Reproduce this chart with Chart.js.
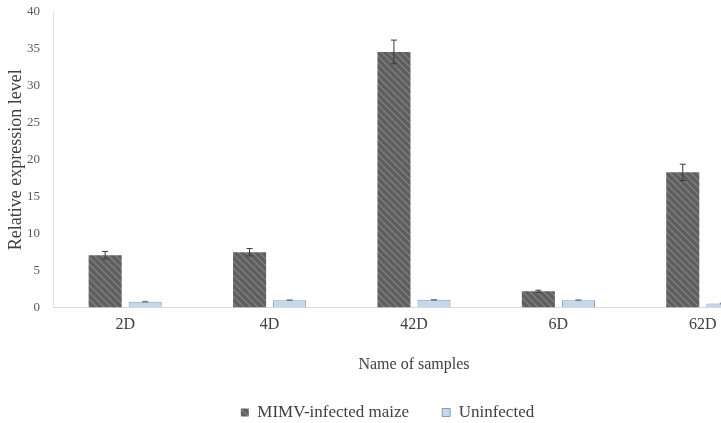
<!DOCTYPE html>
<html>
<head>
<meta charset="utf-8">
<script src="https://cdn.jsdelivr.net/npm/chart.js@4.4.1/dist/chart.umd.min.js"></script>
<style>
  html, body { margin: 0; padding: 0; background: #fff; overflow: hidden; }
  #wrap { position: relative; width: 780px; height: 423px; }
</style>
</head>
<body>
<div id="wrap"><canvas id="expr"></canvas></div>
<script>
const samples = ['2D', '4D', '42D', '6D', '62D'];
const infected = [7.1, 7.5, 34.6, 2.2, 18.3];
const infectedErr = [0.5, 0.5, 1.6, 0.15, 1.1];
const uninfected = [0.8, 1.0, 1.05, 1.0, 0.55];
const uninfectedErr = [0.05, 0.05, 0.05, 0.05, 0.05];
const yTicks = [0, 5, 10, 15, 20, 25, 30, 35, 40];

const serif = "'Liberation Serif', 'DejaVu Serif', serif";
const textCol = '#404040';
Chart.defaults.font.family = serif;
Chart.defaults.color = textCol;

// diagonal stripes like the excel pattern fill
function hatch(base, stripe) {
    const n = 7;
    const c = document.createElement('canvas');
    c.width = n; c.height = n;
    const g = c.getContext('2d');
    g.fillStyle = base;
    g.fillRect(0, 0, n, n);
    g.strokeStyle = stripe;
    g.lineWidth = 1.2;
    g.beginPath();
    g.moveTo(0, 0); g.lineTo(n, n);
    g.moveTo(-n, 0); g.lineTo(n, 2 * n);
    g.moveTo(0, -n); g.lineTo(2 * n, n);
    g.stroke();
    return g.createPattern(c, 'repeat');
}

const errorBars = {
    id: 'errorBars',
    afterDatasetsDraw(chart) {
        const ctx = chart.ctx, y = chart.scales.y;
        chart.data.datasets.forEach((ds, i) => {
            if (!ds.errors) return;
            chart.getDatasetMeta(i).data.forEach((bar, j) => {
                const v = ds.data[j], e = ds.errors[j];
                const top = y.getPixelForValue(v + e);
                const bot = y.getPixelForValue(v - e);
                ctx.save();
                ctx.strokeStyle = ds.errColor;
                ctx.lineWidth = 1;
                ctx.beginPath();
                ctx.moveTo(bar.x, top); ctx.lineTo(bar.x, bot);
                ctx.moveTo(bar.x - 3, top); ctx.lineTo(bar.x + 3, top);
                ctx.moveTo(bar.x - 3, bot); ctx.lineTo(bar.x + 3, bot);
                ctx.stroke();
                ctx.restore();
            });
        });
    }
};

new Chart(document.getElementById('expr'), {
    type: 'bar',
    plugins: [errorBars],
    data: {
        labels: samples,
        datasets: [
            {
                label: 'MIMV-infected maize',
                data: infected,
                errors: infectedErr,
                errColor: '#3a3a3a',
                backgroundColor: hatch('#5f5f5f', '#858585'),
                borderColor: '#5a5a5a',
                borderWidth: 0,
                barPercentage: 0.825,
                categoryPercentage: 0.555
            },
            {
                label: 'Uninfected',
                data: uninfected,
                errors: uninfectedErr,
                errColor: '#6d7f92',
                backgroundColor: '#c2d8ee',
                borderColor: '#8a9bb0',
                borderWidth: 1,
                barPercentage: 0.825,
                categoryPercentage: 0.555
            }
        ]
    },
    options: {
        responsive: true,
        maintainAspectRatio: false,
        animation: false,
        layout: { padding: { left: 0, right: 5, top: 12, bottom: 2 } },
        scales: {
            x: {
                grid: { display: false, drawTicks: false },
                border: { color: '#d9d9d9', width: 1 },
                ticks: { color: textCol, font: { family: serif, size: 16 }, padding: 8 },
                title: {
                    display: true,
                    text: 'Name of samples',
                    color: textCol,
                    font: { family: serif, size: 16 },
                    padding: { top: 12, bottom: -3 }
                }
            },
            y: {
                min: 0,
                max: 40,
                afterBuildTicks: s => { s.ticks = yTicks.map(v => ({ value: v })); },
                afterFit: s => { s.width = 53; s.paddingTop = 0; s.paddingBottom = 0; },
                grid: { display: false, drawTicks: false },
                border: { color: '#e3e3e3', width: 1 },
                ticks: { color: '#595959', font: { family: serif, size: 13 }, padding: 13 },
                title: {
                    display: true,
                    text: 'Relative expression level',
                    color: textCol,
                    font: { family: serif, size: 18 },
                    padding: { top: 5, bottom: 0 }
                }
            }
        },
        plugins: {
            legend: {
                position: 'bottom',
                maxHeight: 50,
                labels: {
                    color: textCol,
                    font: { family: serif, size: 17 },
                    boxWidth: 8,
                    boxHeight: 8,
                    padding: 33
                }
            },
            tooltip: { enabled: false }
        }
    }
});
</script>
</body>
</html>
